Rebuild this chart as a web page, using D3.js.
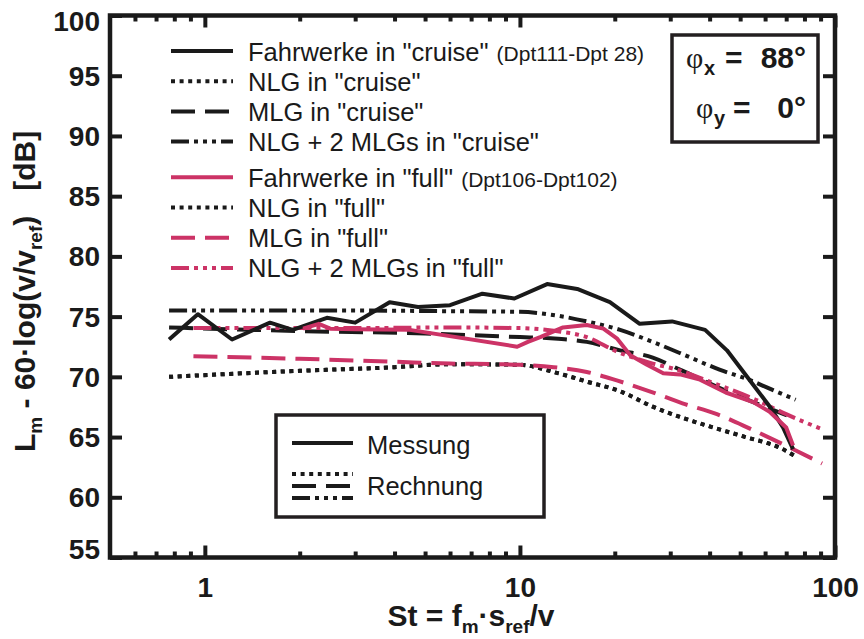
<!DOCTYPE html>
<html><head><meta charset="utf-8">
<script src="https://cdn.jsdelivr.net/npm/d3@7"></script>
<style>body{margin:0;background:#fff} svg{display:block}</style>
</head><body><svg id="chart" width="864" height="639"></svg>
<script>
// ---------------- data ----------------
const xTickValues = [1, 10, 100];
const xTickLabels = ["1", "10", "100"];
const yTickValues = [55, 60, 65, 70, 75, 80, 85, 90, 95, 100];

// Measurement, cruise (Dpt111-Dpt 28)
const stMeasCruise = [0.77, 0.95, 1.22, 1.61, 1.9, 2.44, 3.0, 3.86, 4.75, 6.0, 7.6, 9.6, 12.2, 15.2, 19.3, 24.0, 30.4, 38.7, 45.4, 53.7, 62.2, 68.4, 73.6];
const dbMeasCruise = [73.1, 75.2, 73.1, 74.5, 73.9, 74.9, 74.5, 76.2, 75.8, 75.95, 76.9, 76.5, 77.7, 77.3, 76.2, 74.4, 74.6, 73.9, 72.2, 69.7, 67.5, 65.8, 64.0];
// NLG, cruise
const stNlgCruise = [0.77, 2, 4, 6, 10, 12.8, 16.3, 20.8, 26, 32.8, 41, 52, 67, 75];
const dbNlgCruise = [70.0, 70.5, 70.8, 71.05, 71.0, 70.4, 69.6, 68.8, 67.6, 66.6, 65.8, 65.0, 64.1, 63.4];
// MLG, cruise
const stMlgCruise = [0.77, 2, 5, 10, 12.5, 16.3, 20.8, 26.4, 32.2, 46.4, 56.3, 70.4];
const dbMlgCruise = [74.1, 73.8, 73.6, 73.3, 73.2, 72.9, 72.2, 71.6, 70.6, 68.7, 67.8, 66.8];
// NLG + 2 MLGs, cruise
const stSumCruise = [0.77, 3, 6, 10, 13, 16.3, 20.8, 26.4, 32, 43, 54, 61, 75];
const dbSumCruise = [75.5, 75.5, 75.45, 75.4, 75.1, 74.6, 73.9, 72.9, 72.0, 70.6, 69.7, 69.1, 68.1];
// Measurement, full (Dpt106-Dpt102)
const stMeasFull = [2.05, 2.3, 2.5, 3.0, 4.47, 9.8, 10.6, 11.6, 13.7, 16.3, 18.4, 20.3, 22.4, 25.3, 28.5, 32.2, 37, 45, 55, 62, 70, 73.6];
const dbMeasFull = [74.0, 74.4, 74.0, 73.95, 73.9, 72.5, 72.9, 73.3, 74.1, 74.3, 74.0, 73.2, 71.8, 71.0, 70.3, 70.2, 69.8, 68.7, 67.9, 67.1, 65.8, 64.3];
// NLG, full
const stNlgFull = [0.77, 2, 4, 6, 10, 12.8, 16.3, 20.8, 26, 32.8, 41, 52, 67, 75];
const dbNlgFull = [70.0, 70.5, 70.8, 71.05, 71.0, 70.4, 69.6, 68.8, 67.6, 66.6, 65.8, 65.0, 64.1, 63.4];
// MLG, full
const stMlgFull = [0.92, 2, 4, 6, 8.6, 10, 12.8, 16.3, 20.3, 25.8, 32.8, 42.2, 53.7, 68.4, 91];
const dbMlgFull = [71.7, 71.5, 71.25, 71.1, 71.05, 71.0, 70.8, 70.4, 69.7, 68.8, 67.8, 66.9, 65.7, 64.4, 62.8];
// NLG + 2 MLGs, full
const stSumFull = [0.92, 3, 6, 10, 13, 16.3, 20.3, 26.4, 31.5, 40, 56, 70, 92];
const dbSumFull = [74.05, 74.05, 74.1, 74.05, 73.8, 73.3, 72.1, 71.1, 70.6, 69.6, 68.1, 66.9, 65.6];

const legendLabels = ['Fahrwerke in "cruise"', 'NLG in "cruise"', 'MLG in "cruise"', 'NLG + 2 MLGs in "cruise"',
                      'Fahrwerke in "full"', 'NLG in "full"', 'MLG in "full"', 'NLG + 2 MLGs in "full"'];
const legendNotes = ['(Dpt111-Dpt 28)', '', '', '', '(Dpt106-Dpt102)', '', '', ''];
const typeLabels = ["Messung", "Rechnung"];
const phiX = "88°", phiY = "0°";

// ---------------- drawing ----------------
const BLACK = "#1a1a1a", PINK = "#cc3366", FONT = "'Liberation Sans', Arial, Helvetica, sans-serif";
const DASH = {solid: null, dotted: "4,4.6", dashed: "24,10", dashdot: "18,5,4,5,4,5,4,5"};

const svg = d3.select("#chart");
const x = d3.scaleLog().domain([0.5, 100]).range([110, 835]);
const y = d3.scaleLinear().domain([55, 100]).range([557.5, 15.5]);

const series = [
  {st: stNlgCruise, db: dbNlgCruise, color: BLACK, dash: DASH.dotted, smooth: true},
  {st: stNlgFull, db: dbNlgFull, color: BLACK, dash: DASH.dotted, smooth: true},
  {st: stMlgFull, db: dbMlgFull, color: PINK, dash: DASH.dashed, smooth: true},
  {st: stMlgCruise, db: dbMlgCruise, color: BLACK, dash: DASH.dashed, smooth: true},
  {st: stSumCruise, db: dbSumCruise, color: BLACK, dash: DASH.dashdot, smooth: true},
  {st: stSumFull, db: dbSumFull, color: PINK, dash: DASH.dashdot, smooth: true},
  {st: stMeasCruise, db: dbMeasCruise, color: BLACK, dash: DASH.solid, smooth: false},
  {st: stMeasFull, db: dbMeasFull, color: PINK, dash: DASH.solid, smooth: false}
];

const gLines = svg.append("g");
series.forEach(s => {
  const pts = s.st.map((v, i) => [v, s.db[i]]);
  const line = d3.line().x(d => x(d[0])).y(d => y(d[1]))
    .curve(s.smooth ? d3.curveMonotoneX : d3.curveLinear);
  gLines.append("path").attr("d", line(pts)).attr("fill", "none")
    .attr("stroke", s.color).attr("stroke-width", 4)
    .attr("stroke-linejoin", "round")
    .attr("stroke-dasharray", s.dash);
});

// axes
const minorX = [0.6, 0.7, 0.8, 0.9, 2, 3, 4, 5, 6, 7, 8, 9, 20, 30, 40, 50, 60, 70, 80, 90];
function styleAxis(g) {
  g.select(".domain").remove();
  g.selectAll(".tick line").attr("stroke", BLACK).attr("stroke-width", 4);
}
const xB = svg.append("g").attr("transform", `translate(0,${y.range()[0]})`)
  .call(d3.axisBottom(x).tickValues(xTickValues).tickFormat((d, i) => xTickLabels[i]).tickSize(-12).tickPadding(20));
styleAxis(xB);
xB.selectAll("text").attr("font-family", FONT).attr("font-weight", "bold").attr("font-size", 28).attr("fill", BLACK);
const xBm = svg.append("g").attr("transform", `translate(0,${y.range()[0]})`)
  .call(d3.axisBottom(x).tickValues(minorX).tickFormat("").tickSize(-6));
styleAxis(xBm);
const xT = svg.append("g").attr("transform", `translate(0,${y.range()[1]})`)
  .call(d3.axisTop(x).tickValues(xTickValues).tickFormat("").tickSize(-12));
styleAxis(xT);
const xTm = svg.append("g").attr("transform", `translate(0,${y.range()[1]})`)
  .call(d3.axisTop(x).tickValues(minorX).tickFormat("").tickSize(-6));
styleAxis(xTm);
const yL = svg.append("g").attr("transform", `translate(${x.range()[0]},0)`)
  .call(d3.axisLeft(y).tickValues(yTickValues).tickSize(-12).tickPadding(10));
styleAxis(yL);
yL.selectAll("text").attr("font-family", FONT).attr("font-weight", "bold").attr("font-size", 28).attr("fill", BLACK)
  .attr("dy", d => d === 100 ? "0.55em" : d === 55 ? "0.03em" : "0.34em");
const yR = svg.append("g").attr("transform", `translate(${x.range()[1]},0)`)
  .call(d3.axisRight(y).tickValues(yTickValues).tickFormat("").tickSize(-12));
styleAxis(yR);

// frame
svg.append("rect").attr("x", x.range()[0]).attr("y", y.range()[1])
  .attr("width", x.range()[1] - x.range()[0]).attr("height", y.range()[0] - y.range()[1])
  .attr("fill", "none").attr("stroke", BLACK).attr("stroke-width", 4.5);

// axis titles
const xt = svg.append("text").attr("x", 471).attr("y", 626).attr("text-anchor", "middle")
  .attr("font-family", FONT).attr("font-weight", "bold").attr("font-size", 30).attr("fill", BLACK);
xt.append("tspan").text("St = f");
xt.append("tspan").attr("font-size", 19).attr("dy", 7).text("m");
xt.append("tspan").attr("dy", -7).text("·s");
xt.append("tspan").attr("font-size", 19).attr("dy", 7).text("ref");
xt.append("tspan").attr("dy", -7).text("/v");

const yt = svg.append("text").attr("transform", "translate(35,452) rotate(-90)")
  .attr("font-family", FONT).attr("font-weight", "bold").attr("font-size", 30).attr("fill", BLACK);
yt.append("tspan").text("L");
yt.append("tspan").attr("font-size", 19).attr("dy", 7).text("m");
yt.append("tspan").attr("dy", -7).text(" - 60·log(v/v");
yt.append("tspan").attr("font-size", 19).attr("dy", 7).text("ref");
yt.append("tspan").attr("dy", -7).text(")");
yt.append("tspan").text("\u00a0\u00a0\u00a0[dB]");

// main legend
const legStyles = [
  [BLACK, DASH.solid], [BLACK, DASH.dotted], [BLACK, DASH.dashed], [BLACK, DASH.dashdot],
  [PINK, DASH.solid], [BLACK, DASH.dotted], [PINK, DASH.dashed], [PINK, DASH.dashdot]
];
const gLeg = svg.append("g");
legendLabels.forEach((lab, i) => {
  const ly = 51 + i * 30.2 + (i >= 4 ? 5.5 : 0);
  gLeg.append("line").attr("x1", 171).attr("x2", 233).attr("y1", ly).attr("y2", ly)
    .attr("stroke", legStyles[i][0]).attr("stroke-width", 4).attr("stroke-dasharray", legStyles[i][1]);
  const t = gLeg.append("text").attr("x", 248).attr("y", ly + 9.5)
    .attr("font-family", FONT).attr("font-size", 25.5).attr("fill", BLACK).text(lab);
  if (legendNotes[i]) t.append("tspan").attr("dx", 8).attr("font-size", 21).text(legendNotes[i]);
});

// Messung / Rechnung box
const gBox = svg.append("g");
gBox.append("rect").attr("x", 276).attr("y", 415).attr("width", 268).attr("height", 102)
  .attr("fill", "#fff").attr("stroke", "#231f20").attr("stroke-width", 3.5);
gBox.append("line").attr("x1", 292).attr("x2", 353).attr("y1", 443).attr("y2", 443)
  .attr("stroke", BLACK).attr("stroke-width", 4);
[[474, DASH.dotted], [486, DASH.dashed], [498, DASH.dashdot]].forEach(d => {
  gBox.append("line").attr("x1", 292).attr("x2", 353).attr("y1", d[0]).attr("y2", d[0])
    .attr("stroke", BLACK).attr("stroke-width", 4).attr("stroke-dasharray", d[1]);
});
gBox.append("text").attr("x", 367).attr("y", 454).attr("font-family", FONT).attr("font-size", 25.5)
  .attr("fill", BLACK).text(typeLabels[0]);
gBox.append("text").attr("x", 367).attr("y", 495).attr("font-family", FONT).attr("font-size", 25.5)
  .attr("fill", BLACK).text(typeLabels[1]);

// phi box
const gPhi = svg.append("g");
gPhi.append("rect").attr("x", 672).attr("y", 35).attr("width", 146).attr("height", 107)
  .attr("fill", "#fff").attr("stroke", "#231f20").attr("stroke-width", 3.5);
function phiLine(px, base, sub, eqx, val) {
  gPhi.append("text").attr("x", px).attr("y", base).attr("font-family", "'Liberation Serif', 'Times New Roman', serif")
    .attr("font-size", 30).attr("fill", BLACK).text("φ");
  gPhi.append("text").attr("x", px + 18).attr("y", base + 7).attr("font-family", FONT).attr("font-weight", "bold")
    .attr("font-size", 20).attr("fill", BLACK).text(sub);
  gPhi.append("text").attr("x", eqx).attr("y", base).attr("font-family", FONT).attr("font-weight", "bold")
    .attr("font-size", 30).attr("fill", BLACK).text("=");
  gPhi.append("text").attr("x", 806).attr("y", base).attr("text-anchor", "end").attr("font-family", FONT)
    .attr("font-weight", "bold").attr("font-size", 30).attr("fill", BLACK).text(val);
}
phiLine(686, 68, "x", 725, phiX);
phiLine(696, 118, "y", 733, phiY);
</script></body></html>
